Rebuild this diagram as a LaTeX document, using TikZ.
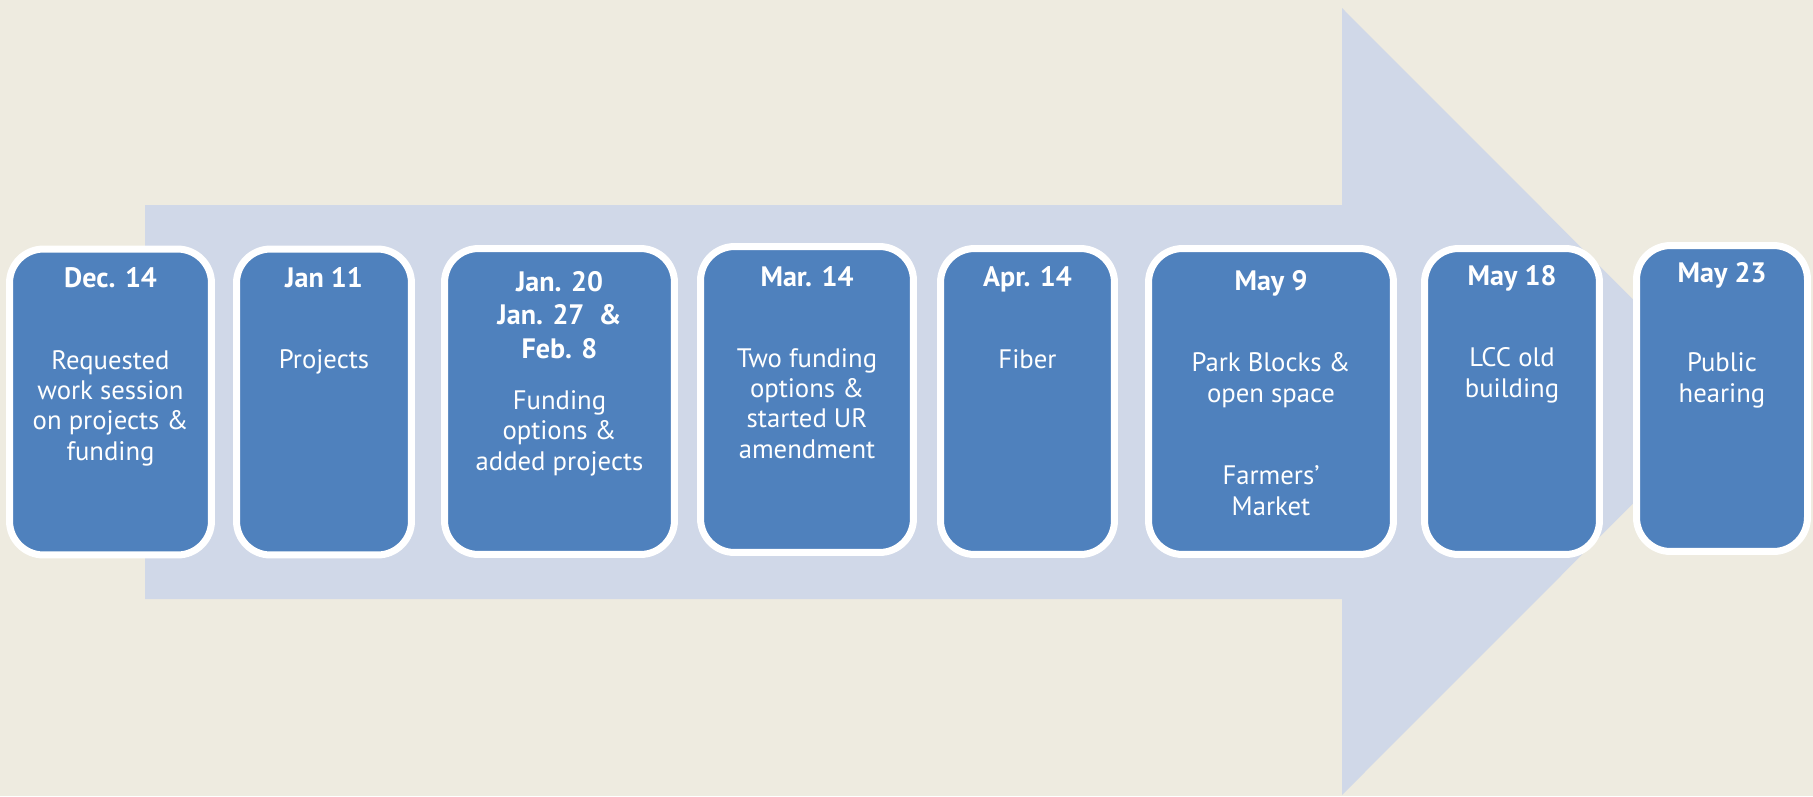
\documentclass[tikz,border=0pt]{standalone}
\usepackage{fontspec}
\setmainfont{PT Sans}
\usetikzlibrary{positioning}
\definecolor{pagebg}{HTML}{EEEBE0}
\definecolor{arrowbg}{HTML}{D0D8E8}
\definecolor{stagefill}{HTML}{4F81BD}

\begin{document}
\begin{tikzpicture}[x=0.02cm,y=-0.02cm,
  stage/.style={rectangle,rounded corners=0.68cm,draw=white,line width=0.14cm,
                fill=stagefill,inner sep=0pt,outer sep=0pt,minimum height=6.12cm},
  when/.style={font=\fontsize{16}{18.8}\selectfont\bfseries,text=white,
               align=center,anchor=base,inner sep=0pt},
  what/.style={font=\fontsize{15.2}{17.1}\selectfont,text=white,
               align=center,anchor=base,inner sep=0pt}]
% background and big arrow
\fill[pagebg] (0,0) rectangle (1813,796);
\fill[arrowbg] (145,205) -- (1342,205) -- (1342,8) -- (1735,401.5)
  -- (1342,795) -- (1342,599) -- (145,599) -- cycle;

% stages
\node[stage, minimum width=4.04cm] (dec) at (110.5,402) {};
\node[stage, minimum width=3.5cm]  (jan) at (324,402) {};
\node[stage, minimum width=4.6cm]  (feb) at (559.5,401.5) {};
\node[stage, minimum width=4.26cm] (mar) at (807,399.5) {};
\node[stage, minimum width=3.48cm] (apr) at (1027.5,401.5) {};
\node[stage, minimum width=4.9cm]  (mayA) at (1271,401.5) {};
\node[stage, minimum width=3.5cm]  (mayB) at (1512,401.5) {};
\node[stage, minimum width=3.42cm] (mayC) at (1722,398.5) {};

% dates (anchored at the last line)
\node[when] (dec-d) at (110.5,287) {Dec. 14};
\node[when] (jan-d) at (324,287) {Jan 11};
\node[when] (feb-d) at (559.5,358) {Jan. 20\\Jan. 27~~\&\\Feb. 8};
\node[when] (mar-d) at (807,286) {Mar. 14};
\node[when] (apr-d) at (1027.5,286) {Apr. 14};
\node[when] (mayA-d) at (1271,290) {May 9};
\node[when] (mayB-d) at (1512,285) {May 18};
\node[when] (mayC-d) at (1722,282) {May 23};

% topics (anchored at the last line)
\node[what] (dec-t) at (110.5,460) {Requested\\work session\\on projects \&\\funding};
\node[what] (jan-t) at (324,368) {Projects};
\node[what] (feb-t) at (559.5,470) {Funding\\options \&\\added projects};
\node[what] (mar-t) at (807,458) {Two funding\\options \&\\started UR\\amendment};
\node[what] (apr-t) at (1027.5,368) {Fiber};
\node[what] (mayA-t) at (1271,402) {Park Blocks \&\\open space};
\node[what] (mayA-u) at (1271,515) {Farmers’\\Market};
\node[what] (mayB-t) at (1512,397) {LCC old\\building};
\node[what] (mayC-t) at (1722,402) {Public\\hearing};
\end{tikzpicture}
\end{document}
